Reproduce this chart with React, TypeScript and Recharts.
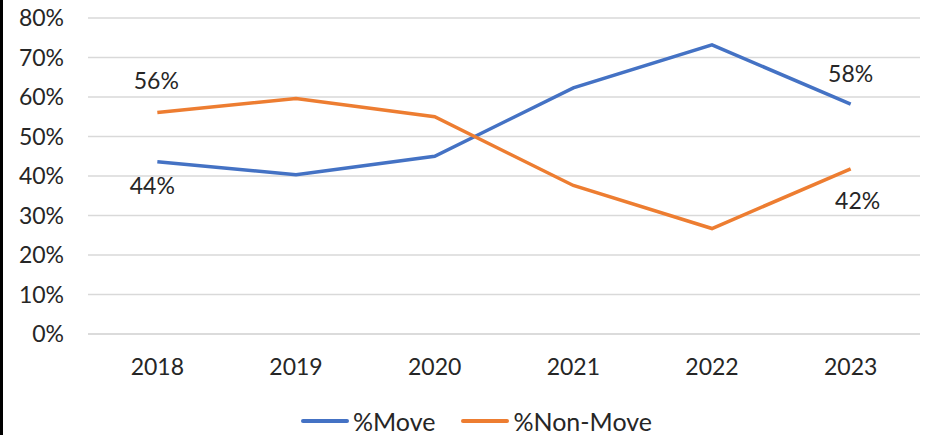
import React from "react";
import { LineChart, Line, XAxis, YAxis, CartesianGrid, Legend, LabelList } from "recharts";

const years = ["2018", "2019", "2020", "2021", "2022", "2023"];
const moveValues = [43.6, 40.3, 45.0, 62.3, 73.2, 58.2];
const nonMoveValues = [56.1, 59.6, 55.0, 37.6, 26.7, 41.8];
const moveLabels = ["44%", "", "", "", "", "58%"];
const nonMoveLabels = ["56%", "", "", "", "", "42%"];
const yTicks = [0, 10, 20, 30, 40, 50, 60, 70, 80];

const data = years.map((y, i) => ({
  year: y,
  move: moveValues[i],
  nonMove: nonMoveValues[i],
  moveLabel: moveLabels[i],
  nonMoveLabel: nonMoveLabels[i],
}));

const FONT = "Lato, 'Noto Sans', sans-serif";
const BLUE = "#4472C4";
const ORANGE = "#ED7D31";
const TEXT = "#262626";

const makeLabel = (offsets: Record<number, [number, number]>) => (props: any) => {
  const { x, y, value, index } = props;
  if (!value) return null;
  const off = offsets[index] || [0, 0];
  return (
    <text
      x={x + off[0]}
      y={y + off[1]}
      textAnchor="middle"
      dominantBaseline="central"
      fontFamily={FONT}
      fontSize={23}
      fill={TEXT}
    >
      {value}
    </text>
  );
};

const moveLabel = makeLabel({ 0: [-5, 23], 5: [0, -31] });
const nonMoveLabel = makeLabel({ 0: [-1, -32], 5: [7, 31] });

const LegendContent = () => (
  <div
    style={{
      display: "flex",
      justifyContent: "center",
      alignItems: "center",
      height: 26,
      lineHeight: "26px",
      paddingLeft: 17,
      fontFamily: FONT,
      fontSize: 25,
      color: TEXT,
    }}
  >
    <span style={{ display: "inline-block", width: 48, height: 4, borderRadius: 2, background: BLUE, marginRight: 4 }} />
    <span style={{ marginRight: 26, lineHeight: "26px" }}>%Move</span>
    <span style={{ display: "inline-block", width: 48, height: 4, borderRadius: 2, background: ORANGE, marginRight: 4 }} />
    <span style={{ lineHeight: "26px" }}>%Non-Move</span>
  </div>
);

export default function App() {
  return (
    <div style={{ position: "absolute", left: 0, top: 0, width: 936, height: 435, background: "#fff" }}>
      <LineChart
        width={936}
        height={435}
        data={data}
        margin={{ top: 18, right: 16, bottom: 1, left: 0 }}
      >
        <CartesianGrid vertical={false} stroke="#D9D9D9" strokeWidth={1.3} />
        <XAxis
          dataKey="year"
          scale="band"
          axisLine={{ stroke: "#D9D9D9", strokeWidth: 1.3 }}
          tickLine={false}
          tickMargin={19}
          height={74}
          tick={{ fontFamily: FONT, fontSize: 23, fill: TEXT }}
        />
        <YAxis
          domain={[0, 80]}
          ticks={yTicks}
          interval={0}
          width={88}
          axisLine={false}
          tickLine={false}
          tickMargin={18}
          tickFormatter={(v: number) => `${v}%`}
          tick={{ fontFamily: FONT, fontSize: 23, fill: TEXT }}
        />
        <Legend
          verticalAlign="bottom"
          height={26}
          content={<LegendContent />}
          wrapperStyle={{ left: 0, width: 936 }}
        />
        <Line
          dataKey="move"
          name="%Move"
          stroke={BLUE}
          strokeWidth={3.5}
          dot={false}
          isAnimationActive={false}
        >
          <LabelList dataKey="moveLabel" content={moveLabel} />
        </Line>
        <Line
          dataKey="nonMove"
          name="%Non-Move"
          stroke={ORANGE}
          strokeWidth={3.5}
          dot={false}
          isAnimationActive={false}
        >
          <LabelList dataKey="nonMoveLabel" content={nonMoveLabel} />
        </Line>
      </LineChart>
      <div style={{ position: "absolute", left: 0, top: 0, width: 3, height: 435, background: "#000" }} />
    </div>
  );
}
